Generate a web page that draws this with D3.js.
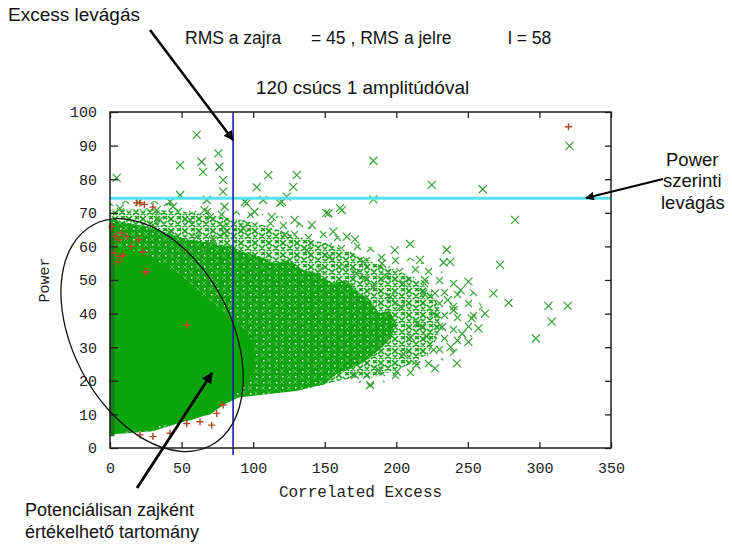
<!DOCTYPE html>
<html><head><meta charset="utf-8">
<script src="https://cdn.jsdelivr.net/npm/d3@7"></script>
<style>body{margin:0;background:#fff}svg{display:block}</style>
</head><body>
<svg id="c" width="732" height="546"></svg>
<script>
// ---- data ----
const xTicks = [0, 50, 100, 150, 200, 250, 300, 350];
const yTicks = [0, 10, 20, 30, 40, 50, 60, 70, 80, 90, 100];
const excessCut = 86;
const powerCut = 74.3;
const xLabel = "Correlated Excess";
const yLabel = "Power";
const titleText = "120 csúcs 1 amplitúdóval";

// very dense (solid) part of the green cloud: [excess, power]
const coreRegion = [[0,4],[0,60],[15,59],[28,57],[44,53],[55,49],[65,45],[78,41],[88,38],[98,33],[102,27],[98,21],[90,17],[84,14],[76,12],[68,10],[58,8.5],[48,7.5],[38,7],[28,6],[18,5.5],[8,4.5]];
// dense speckled part
const denseRegion = [[0,4],[0,68],[12,67],[25,66],[40,64],[55,62],[70,61],[85,60],[95,58],[105,57],[115,55],[125,56],[135,53],[145,52],[155,49],[165,50],[175,46],[182,44],[188,40],[195,41],[200,37],[197,33],[190,30],[182,27],[175,25],[165,23],[158,22],[150,19],[140,18],[130,17],[110,16],[90,15],[80,13],[70,10],[60,9],[45,7],[30,5],[15,4.5]];
// medium density part
const mediumRegion = [[0,66],[0,71],[30,71],[60,70],[90,68],[110,66],[130,63],[150,61],[170,58],[185,55],[200,53],[215,50],[225,46],[232,40],[229,33],[222,28],[210,25],[198,23],[185,21],[172,21],[160,20],[150,19],[130,17]];
// sparse part (scattered crosses)
const sparseRegion = [[0,68],[0,73],[20,74],[40,73],[60,72],[80,71],[100,70],[120,69],[140,66],[160,63],[180,60],[200,58],[220,55],[240,51],[256,46],[262,40],[255,34],[240,28],[225,24],[210,21],[195,20],[182,18],[170,20],[158,21],[150,19]];
// points with excess = 0
const zeroColumn = [[0,3.5],[0,67]];
// individual green (series 2) crosses
const greenPoints = [[60.6,93.2],[4.7,80.4],[49,84.2],[64,85.2],[65,82.2],[75.7,87.7],[76.4,83.7],[79,79.8],[79,76.3],[110.6,81.2],[130.5,81.2],[102.5,77.6],[128,77.7],[49,75.3],[67.6,73.8],[42,73.3],[95.5,72.8],[107,73.8],[118.8,72.9],[123.5,74.8],[160.7,71.4],[151,70],
[184,85.5],[224.8,78.3],[260.4,77],[184,74],[283,67.9],[321,89.9],[209.6,60.7],[235.3,59],[165.4,62.9],[171.2,62.1],[237.6,55.4],[233,55.2],[272.5,54.5],[250.4,49.5],[267.9,46],[278.4,43.2],[306.3,42.3],[319.8,42.3],[308.6,37.6],[297.5,32.6],[220,50],[227,46],[240,41],[252.7,38.6],[257.4,35.6],[226,40],[242.3,25.2],[250.4,31.6],[227,23.7],[214,24.7],[181.7,18.75],[171.2,21.7],[200.3,22.7],[187.5,23.2],[226,29.2],[221.3,33.1],[217.8,36.1],
[94.3,73.3],[120,73.3],[152.6,69.8],[162,70.8],[101,70.3],[113,68.8],[129,67.9],[141,66.4],[93,65.4],[122,63.4],[156,64.4],[199,58.9],[216.6,56],[177,55.4],[190,54.9],[164,54],[178,50.5],[146.7,53],[153.7,57],[137.5,58.9],[205,49],[193,51],[219,46],[214.3,37.1],
[7,71.3],[32.6,70.8],[44,71.8],[66,70.8],[80,71.8],[35,67.9],[30,66.4],[56,67.9],[70,68.8],[79,65.9],[42,63.9],[60.6,62.9],[72,61.9],[49,59.9],[80,63.9],[65,58.4],
[236,44],[245,47],[232,36],[238,30],[205,28],[210,33],[196,45],[203,42],[184,48],[172,52],[246,34],[262,40]];
// individual red (series 1) plus marks
const redPoints = [[320.3,95.6],[18.6,73],[30,71.7],[21,73],[24,72.5],[1.2,65.9],[4,63],[6,62],[8,64],[11.6,62.9],[23.3,58.4],[9.3,57.4],[7,57],[5.6,55.4],[25.6,52.5],[24.5,52.4],[53.6,36.6],[21,3.9],[30,3.4],[42,4.4],[53.6,7.3],[62.9,7.8],[71,6.8],[74.6,10.3],[79,12.8],[15,60],[20,62],[3,58]];

// ---- drawing ----
const svg = d3.select("#c");
const x = d3.scaleLinear().domain([0, 350]).range([110, 611]);
const y = d3.scaleLinear().domain([0, 100]).range([448, 112]);
const sans = "'Liberation Sans', Arial, sans-serif";
const mono = "'Liberation Mono', 'DejaVu Sans Mono', monospace";

const defs = svg.append("defs");
const pd = defs.append("pattern").attr("id","dense").attr("patternUnits","userSpaceOnUse").attr("width",13).attr("height",11);
pd.append("rect").attr("width",13).attr("height",11).attr("fill","#12a312");
pd.append("path").attr("d","M1,1l4,4M5,1l-4,4M7,6l4,4M11,6l-4,4").attr("stroke","#62c462").attr("stroke-width",0.9);
pd.append("rect").attr("x",9).attr("y",2).attr("width",1.5).attr("height",1.5).attr("fill","#e8f8e8");
pd.append("rect").attr("x",3).attr("y",8).attr("width",1.5).attr("height",1.5).attr("fill","#e8f8e8");
const pm = defs.append("pattern").attr("id","medium").attr("patternUnits","userSpaceOnUse").attr("width",14).attr("height",12);
pm.append("rect").attr("width",14).attr("height",12).attr("fill","#e2f4e2");
pm.append("path").attr("d","M0,0l6,6M6,0l-6,6M7,5l6,6M13,5l-6,6M9,0l4,3M13,0l-4,3M1,7l4,4M5,7l-4,4")
  .attr("stroke","#18a018").attr("stroke-width",1.6).attr("fill","none");
const ps = defs.append("pattern").attr("id","sparse").attr("patternUnits","userSpaceOnUse").attr("width",29).attr("height",23);
ps.append("path").attr("d","M1,1l7,7M8,1l-7,7M15,4l7,7M22,4l-7,7M6,13l7,7M13,13l-7,7M19,15l7,7M26,15l-7,7")
  .attr("stroke","#3aa83a").attr("stroke-width",1.1).attr("fill","none");
defs.append("marker").attr("id","ah").attr("viewBox","0 0 10 10").attr("refX",9).attr("refY",5)
  .attr("markerWidth",4).attr("markerHeight",4).attr("orient","auto")
  .append("path").attr("d","M0,0L10,5L0,10z").attr("fill","#000");

const area = d3.line().x(d => x(d[0])).y(d => y(d[1])).curve(d3.curveLinearClosed);
const plot = svg.append("g");
plot.append("path").attr("d", area(sparseRegion)).attr("fill","url(#sparse)");
plot.append("path").attr("d", area(mediumRegion)).attr("fill","url(#medium)");
plot.append("path").attr("d", area(denseRegion)).attr("fill","url(#dense)");
plot.append("path").attr("d", area(coreRegion)).attr("fill","#0aa50a");
plot.append("path").attr("d", d3.line().x(d=>x(d[0])+2).y(d=>y(d[1]))(zeroColumn)).attr("stroke","#1b7a1b").attr("stroke-width",5);

const r = 4;
plot.append("g").selectAll("path").data(greenPoints).join("path")
  .attr("d", d => `M${x(d[0])-r},${y(d[1])-r}L${x(d[0])+r},${y(d[1])+r}M${x(d[0])+r},${y(d[1])-r}L${x(d[0])-r},${y(d[1])+r}`)
  .attr("stroke","#35a035").attr("stroke-width",1.2).attr("fill","none");
const rp = 3.5;
plot.append("g").selectAll("path").data(redPoints).join("path")
  .attr("d", d => `M${x(d[0])-rp},${y(d[1])}H${x(d[0])+rp}M${x(d[0])},${y(d[1])-rp}V${y(d[1])+rp}`)
  .attr("stroke","#b8452a").attr("stroke-width",1.4).attr("fill","none");

// cut lines
svg.append("line").attr("x1",x(0)).attr("x2",x(350)).attr("y1",y(powerCut)).attr("y2",y(powerCut))
  .attr("stroke","#55e2f0").attr("stroke-width",3);
svg.append("line").attr("x1",x(excessCut)).attr("x2",x(excessCut)).attr("y1",y(100)).attr("y2",y(0)+7)
  .attr("stroke","#1c1ca8").attr("stroke-width",1.6);

// axes
const styleAxis = g => { g.select(".domain").remove(); g.selectAll("line").attr("stroke","#222").attr("stroke-width",1.3);
  g.selectAll("text").attr("font-family",mono).attr("font-size",15).attr("fill","#222"); };
svg.append("g").attr("transform",`translate(0,${y(0)})`)
  .call(d3.axisBottom(x).tickValues(xTicks).tickSizeInner(-6).tickSizeOuter(0).tickPadding(14)).call(styleAxis);
svg.append("g").attr("transform",`translate(0,${y(100)})`)
  .call(d3.axisTop(x).tickValues(xTicks).tickSizeInner(-6).tickSizeOuter(0).tickFormat("")).call(styleAxis);
svg.append("g").attr("transform",`translate(${x(0)},0)`)
  .call(d3.axisLeft(y).tickValues(yTicks).tickSizeInner(-8).tickSizeOuter(0).tickPadding(13)).call(styleAxis);
svg.append("g").attr("transform",`translate(${x(350)},0)`)
  .call(d3.axisRight(y).tickValues(yTicks).tickSizeInner(-6).tickSizeOuter(0).tickFormat("")).call(styleAxis);
svg.append("rect").attr("x",x(0)).attr("y",y(100)).attr("width",x(350)-x(0)).attr("height",y(0)-y(100))
  .attr("fill","none").attr("stroke","#222").attr("stroke-width",1.5);

svg.append("text").attr("x",(x(0)+x(350))/2).attr("y",497).attr("text-anchor","middle")
  .attr("font-family",mono).attr("font-size",16).attr("fill","#222").text(xLabel);
svg.append("text").attr("transform","translate(49,280) rotate(-90)").attr("text-anchor","middle")
  .attr("font-family",mono).attr("font-size",15).attr("fill","#222").text(yLabel);

// ellipse annotation
svg.append("ellipse").attr("cx",x(29.4)).attr("cy",y(33.6)).attr("rx",125).attr("ry",79)
  .attr("transform",`rotate(62 ${x(29.4)} ${y(33.6)})`).attr("fill","none").attr("stroke","#111").attr("stroke-width",1.3);

// arrows
const arrow = (x1,y1,x2,y2,w) => svg.append("line").attr("x1",x1).attr("y1",y1).attr("x2",x2).attr("y2",y2)
  .attr("stroke","#000").attr("stroke-width",w).attr("marker-end","url(#ah)");
arrow(150,30,233,140,2.5);
arrow(663,179,586,198,2.2);
arrow(137,488,212,373,2.8);

// texts
const txt = (s,xx,yy,size) => svg.append("text").attr("x",xx).attr("y",yy).attr("font-family",sans)
  .attr("font-size",size).attr("fill","#111").text(s);
txt("Excess levágás",8,21,19);
txt("RMS a zajra",185,44,17.5);
txt("= 45 , RMS a jelre",311,44,17.5);
txt("l = 58",508,44,17.5);
svg.append("text").attr("x",(x(0)+x(350))/2+2).attr("y",94).attr("text-anchor","middle").attr("font-family",sans)
  .attr("font-size",19).attr("fill","#111").text(titleText);
txt("Power",666,166,18.5);
txt("szerinti",663,187,18.5);
txt("levágás",661,209,18.5);
txt("Potenciálisan zajként",25,516,18);
txt("értékelhető tartomány",25,538,18);
</script>
</body></html>
